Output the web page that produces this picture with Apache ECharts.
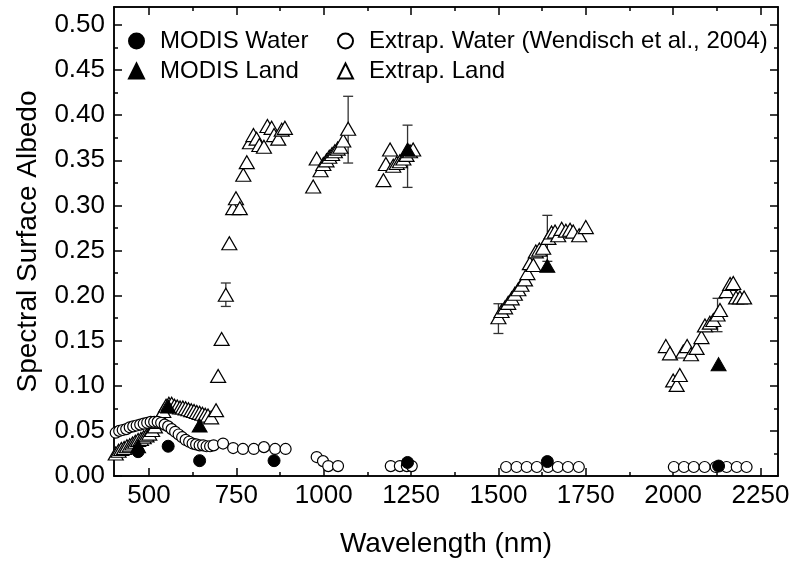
<!DOCTYPE html>
<html>
<head>
<meta charset="utf-8">
<script src="https://cdn.jsdelivr.net/npm/echarts@6/dist/echarts.min.js"></script>
<style>
html,body{margin:0;padding:0;background:#fff;}
#chart{width:794px;height:563px;}
</style>
</head>
<body>
<div id="chart"></div>
<script>
// ---- data ----
var xMajorTicks = [500, 750, 1000, 1250, 1500, 1750, 2000, 2250];
var xMinorTicks = [625, 875, 1125, 1375, 1625, 1875, 2125];
var yMajorTicks = [0, 0.05, 0.10, 0.15, 0.20, 0.25, 0.30, 0.35, 0.40, 0.45, 0.50];
var yMinorTicks = [0.025, 0.075, 0.125, 0.175, 0.225, 0.275, 0.325, 0.375, 0.425, 0.475];

var modisWater = [[469,0.027],[555,0.033],[645,0.017],[858,0.017],[1240,0.015],[1640,0.016],[2130,0.011]];
var modisLand = [[469,0.033],[555,0.077],[645,0.056],[1240,0.362],[1640,0.233],[2130,0.124]];

var extrapWater = [
  [405,0.048],[415,0.050],[425,0.051],[435,0.052],[445,0.054],[455,0.055],[465,0.056],[475,0.057],
  [485,0.058],[495,0.059],[505,0.060],[515,0.060],[525,0.060],[535,0.059],[545,0.057],[555,0.055],
  [565,0.052],[575,0.049],[585,0.046],[595,0.043],[605,0.040],[615,0.038],[625,0.036],[635,0.035],
  [645,0.034],[655,0.034],[665,0.033],[675,0.033],[685,0.034],
  [712,0.036],[741,0.031],[769,0.030],[800,0.030],[829,0.032],[861,0.030],[891,0.030],
  [980,0.021],[998,0.0165],[1013,0.011],[1041,0.011],
  [1192,0.011],[1218,0.011],[1238,0.011],[1252,0.011],
  [1522,0.010],[1552,0.010],[1581,0.010],[1610,0.010],[1642,0.010],[1670,0.010],[1699,0.010],[1730,0.010],
  [2002,0.010],[2031,0.010],[2059,0.010],[2090,0.010],[2122,0.010],[2153,0.010],[2182,0.010],[2210,0.010]
];

var extrapLand = [
  [405,0.025],[413,0.028],[421,0.030],[429,0.031],[437,0.033],[445,0.034],[453,0.036],[461,0.038],
  [469,0.040],[477,0.041],[485,0.043],[493,0.045],[501,0.047],[509,0.051],[517,0.055],[525,0.060],
  [533,0.066],[541,0.072],[549,0.078],[557,0.080],[565,0.080],[573,0.078],[581,0.077],[589,0.076],
  [597,0.076],[605,0.075],[613,0.074],[621,0.073],[629,0.072],[637,0.071],[645,0.070],[653,0.069],
  [661,0.068],[669,0.067],[678,0.065],[692,0.073],
  [698,0.111],[708,0.152],[720,0.201],[730,0.258],[741,0.297],[749,0.308],[760,0.297],[770,0.334],
  [780,0.348],[789,0.370],[799,0.378],[808,0.374],[816,0.367],[829,0.365],[839,0.388],[851,0.386],
  [858,0.378],[870,0.374],[880,0.384],[889,0.386],
  [970,0.321],[980,0.352],[991,0.339],[999,0.346],[1008,0.350],[1016,0.354],[1024,0.357],[1032,0.360],
  [1040,0.363],[1048,0.365],[1056,0.372],[1070,0.385],
  [1171,0.328],[1178,0.346],[1190,0.362],[1199,0.344],[1209,0.347],[1218,0.349],[1228,0.352],[1237,0.356],
  [1247,0.360],[1256,0.362],
  [1500,0.176],[1509,0.183],[1519,0.187],[1528,0.192],[1538,0.197],[1547,0.202],[1557,0.207],[1566,0.212],
  [1576,0.218],[1583,0.225],[1590,0.236],[1600,0.234],[1607,0.249],[1617,0.251],[1628,0.253],[1643,0.264],
  [1652,0.270],[1662,0.271],[1671,0.267],[1681,0.274],[1693,0.272],[1705,0.273],[1714,0.271],[1731,0.267],
  [1750,0.276],
  [1979,0.144],[1991,0.136],[2000,0.106],[2010,0.101],[2019,0.112],[2029,0.138],[2040,0.144],[2051,0.135],
  [2067,0.142],[2081,0.154],[2091,0.167],[2105,0.170],[2115,0.173],[2127,0.179],[2134,0.184],[2153,0.205],
  [2163,0.213],[2172,0.214],[2180,0.198],[2191,0.198],[2203,0.198]
];

// error bars: [x, low, high]
var errorBars = [[720,0.188,0.214],[1070,0.347,0.421],[1240,0.320,0.389],[1500,0.158,0.191],[1640,0.238,0.289],[2127,0.160,0.197]];

// ---- chart ----
var FONT = '"Liberation Sans", Arial, Helvetica, sans-serif';
var chart = echarts.init(document.getElementById('chart'), null, {renderer: 'canvas'});

function xAx(pos, ticks, len, labels) {
  return {
    type: 'value', position: pos, min: 400, max: 2300,
    axisLine: {show: true, onZero: false, lineStyle: {color: '#000', width: 1.5}},
    axisTick: {show: true, inside: true, length: len, customValues: ticks, lineStyle: {color: '#000', width: 1.5}},
    axisLabel: labels ? {show: true, customValues: ticks, color: '#000', fontFamily: FONT, fontSize: 26, margin: 7,
      formatter: function (v) { return String(v); }} : {show: false},
    splitLine: {show: false},
    name: labels ? 'Wavelength (nm)' : '',
    nameLocation: 'middle', nameGap: 54,
    nameTextStyle: {color: '#000', fontFamily: FONT, fontSize: 28}
  };
}
function yAx(pos, ticks, len, labels) {
  return {
    type: 'value', position: pos, min: 0, max: 0.52,
    axisLine: {show: true, onZero: false, lineStyle: {color: '#000', width: 1.5}},
    axisTick: {show: true, inside: true, length: len, customValues: ticks, lineStyle: {color: '#000', width: 1.5}},
    axisLabel: labels ? {show: true, customValues: ticks, color: '#000', fontFamily: FONT, fontSize: 26, margin: 9,
      formatter: function (v) { return v.toFixed(2); }} : {show: false},
    splitLine: {show: false},
    name: labels ? 'Spectral Surface Albedo' : '',
    nameLocation: 'middle', nameGap: 72,
    nameTextStyle: {color: '#000', fontFamily: FONT, fontSize: 28}
  };
}

var legendBase = function (name, left, top) {
  return {
    data: [name], left: left, top: top, orient: 'horizontal',
    itemWidth: 15, itemHeight: 15, padding: 0,
    textStyle: {color: '#000', fontFamily: FONT, fontSize: 24, padding: [0, 0, 0, 11]},
    selectedMode: false
  };
};

var option = {
  animation: false,
  backgroundColor: '#fff',
  grid: {left: 114, right: 16, top: 7, bottom: 86, containLabel: false},
  xAxis: [
    xAx('bottom', xMajorTicks, 8, true),
    xAx('bottom', xMinorTicks, 4, false),
    xAx('top', xMajorTicks, 8, false),
    xAx('top', xMinorTicks, 4, false)
  ],
  yAxis: [
    yAx('left', yMajorTicks, 8, true),
    yAx('left', yMinorTicks, 4, false),
    yAx('right', yMajorTicks, 8, false),
    yAx('right', yMinorTicks, 4, false)
  ],
  legend: [
    legendBase('MODIS Water', 128, 29),
    legendBase('Extrap. Water (Wendisch et al., 2004)', 337, 29),
    legendBase('MODIS Land', 128, 59),
    legendBase('Extrap. Land', 337, 59)
  ],
  series: [
    {
      type: 'custom', name: 'errors', silent: true, z: 1,
      renderItem: function (params, api) {
        var x = api.value(0);
        var lo = api.coord([x, api.value(1)]);
        var hi = api.coord([x, api.value(2)]);
        var cw = 5;
        var st = {stroke: '#333', lineWidth: 1.3};
        return {
          type: 'group',
          children: [
            {type: 'line', shape: {x1: lo[0], y1: lo[1], x2: hi[0], y2: hi[1]}, style: st},
            {type: 'line', shape: {x1: lo[0] - cw, y1: lo[1], x2: lo[0] + cw, y2: lo[1]}, style: st},
            {type: 'line', shape: {x1: hi[0] - cw, y1: hi[1], x2: hi[0] + cw, y2: hi[1]}, style: st}
          ]
        };
      },
      encode: {x: 0, y: [1, 2]},
      data: errorBars
    },
    {
      type: 'scatter', name: 'Extrap. Land', symbol: 'triangle', symbolSize: [15, 13], z: 2,
      itemStyle: {color: '#fff', borderColor: '#000', borderWidth: 1.2, opacity: 1},
      data: extrapLand
    },
    {
      type: 'scatter', name: 'Extrap. Water (Wendisch et al., 2004)', symbol: 'circle', symbolSize: 11, z: 3,
      itemStyle: {color: '#fff', borderColor: '#000', borderWidth: 1.2, opacity: 1},
      data: extrapWater
    },
    {
      type: 'scatter', name: 'MODIS Land', symbol: 'triangle', symbolSize: [15, 13], z: 4,
      itemStyle: {color: '#000', borderColor: '#000', borderWidth: 1, opacity: 1},
      data: modisLand
    },
    {
      type: 'scatter', name: 'MODIS Water', symbol: 'circle', symbolSize: 12, z: 5,
      itemStyle: {color: '#000', borderColor: '#000', borderWidth: 1, opacity: 1},
      data: modisWater
    }
  ]
};
chart.setOption(option);
</script>
</body>
</html>
